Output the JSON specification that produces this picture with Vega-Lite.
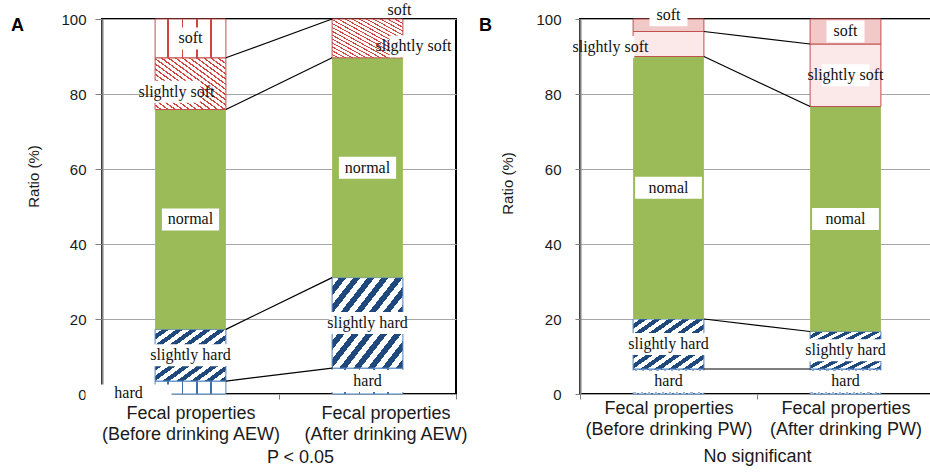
{
  "$schema": "https://vega.github.io/schema/vega-lite/v6.json",
  "background": "white",
  "padding": {"left": 9, "top": 0, "right": 0, "bottom": 0},
  "spacing": 8,
  "config": {
    "view": {"stroke": "#000", "strokeWidth": 2},
    "axisY": {"grid": true, "gridColor": "#a6a6a6", "gridWidth": 1, "domainColor": "#7f7f7f", "domainWidth": 2, "tickColor": "#7f7f7f", "labelFont": "Liberation Sans", "labelFontSize": 15, "labelColor": "#1a1a1a", "titleFont": "Liberation Sans", "titleFontSize": 15, "titleFontWeight": "normal", "titleColor": "#1a1a1a"},
    "axisX": {"domain": false, "tickBand": "extent", "tickColor": "#7f7f7f", "tickSize": 5, "labelAngle": 0, "labelFont": "Liberation Sans", "labelFontSize": 18, "labelColor": "#1a1a1a", "labelLineHeight": 21, "labelLimit": 400, "labelExpr": "datum.label ? ['Fecal properties', '(' + datum.label + ')'] : ''", "titleFont": "Liberation Sans", "titleFontSize": 18, "titleFontWeight": "normal", "titleColor": "#1a1a1a"}
  },
  "datasets": {
    "aew": [
      {"time": "Before drinking AEW", "cat": "hard", "label": "hard", "ratio": 3.448},
      {"time": "Before drinking AEW", "cat": "slightly hard", "label": "slightly hard", "ratio": 13.793},
      {"time": "Before drinking AEW", "cat": "normal", "label": "normal", "ratio": 58.621},
      {"time": "Before drinking AEW", "cat": "slightly soft", "label": "slightly soft", "ratio": 13.793},
      {"time": "Before drinking AEW", "cat": "soft", "label": "soft", "ratio": 10.345},
      {"time": "After drinking AEW", "cat": "hard", "label": "hard", "ratio": 6.897},
      {"time": "After drinking AEW", "cat": "slightly hard", "label": "slightly hard", "ratio": 24.138},
      {"time": "After drinking AEW", "cat": "normal", "label": "normal", "ratio": 58.621},
      {"time": "After drinking AEW", "cat": "slightly soft", "label": "slightly soft", "ratio": 10.345},
      {"time": "After drinking AEW", "cat": "soft", "label": "soft", "ratio": 0}
    ],
    "aewLinks": [
      {"from": "Before drinking AEW", "to": "After drinking AEW", "a": 3.448, "b": 6.897},
      {"from": "Before drinking AEW", "to": "After drinking AEW", "a": 17.241, "b": 31.034},
      {"from": "Before drinking AEW", "to": "After drinking AEW", "a": 75.862, "b": 89.655},
      {"from": "Before drinking AEW", "to": "After drinking AEW", "a": 89.655, "b": 100}
    ],
    "pw": [
      {"time": "Before drinking PW", "cat": "hard", "label": "hard", "ratio": 6.667},
      {"time": "Before drinking PW", "cat": "slightly hard", "label": "slightly hard", "ratio": 13.333},
      {"time": "Before drinking PW", "cat": "normal", "label": "nomal", "ratio": 70},
      {"time": "Before drinking PW", "cat": "slightly soft", "label": "slightly soft", "ratio": 6.667},
      {"time": "Before drinking PW", "cat": "soft", "label": "soft", "ratio": 3.333},
      {"time": "After drinking PW", "cat": "hard", "label": "hard", "ratio": 6.667},
      {"time": "After drinking PW", "cat": "slightly hard", "label": "slightly hard", "ratio": 10},
      {"time": "After drinking PW", "cat": "normal", "label": "nomal", "ratio": 60},
      {"time": "After drinking PW", "cat": "slightly soft", "label": "slightly soft", "ratio": 16.667},
      {"time": "After drinking PW", "cat": "soft", "label": "soft", "ratio": 6.666}
    ],
    "pwLinks": [
      {"from": "Before drinking PW", "to": "After drinking PW", "a": 6.667, "b": 6.667},
      {"from": "Before drinking PW", "to": "After drinking PW", "a": 20, "b": 16.667},
      {"from": "Before drinking PW", "to": "After drinking PW", "a": 90, "b": 76.667},
      {"from": "Before drinking PW", "to": "After drinking PW", "a": 96.667, "b": 93.333}
    ]
  },
  "hconcat": [
    {
      "width": 354, "height": 375,
      "title": {"text": "A", "anchor": "start", "frame": "bounds", "font": "Liberation Sans", "fontSize": 18, "fontWeight": "bold", "color": "#000", "offset": 0, "dx": -16, "dy": 33},
      "data": {"name": "aew"},
      "transform": [
        {"calculate": "indexof(['hard','slightly hard','normal','slightly soft','soft'], datum.cat)", "as": "rank"},
        {"stack": "ratio", "groupby": ["time"], "sort": [{"field": "rank", "order": "ascending"}], "as": ["y0", "y1"]},
        {"calculate": "(datum.y0 + datum.y1) / 2", "as": "mid"},
        {"calculate": "datum.time + '/' + datum.cat", "as": "key"}
      ],
      "encoding": {
        "x": {"field": "time", "type": "nominal", "sort": null, "title": "P < 0.05", "scale": {"domain": ["Before drinking AEW", "After drinking AEW"], "paddingInner": 0, "paddingOuter": 0},
          "axis": {"titleX": 198, "labelPadding": 5, "titlePadding": 5, "labelOffset": {"condition": {"test": "datum.value == 'After drinking AEW'", "value": 18}, "value": 0}}}
      },
      "layer": [
        {"transform": [{"filter": "datum.cat == 'hard'"}],
          "mark": {"type": "bar", "width": {"band": 0.4}, "stroke": "#4f81bd", "strokeWidth": 1,
            "fill": {"gradient": "linear", "x1": 0, "y1": 0, "x2": 1, "y2": 0, "stops": [
              {"offset": 0, "color": "#fff"}, {"offset": 0.175, "color": "#fff"}, {"offset": 0.175, "color": "#3a6fb0"}, {"offset": 0.2, "color": "#3a6fb0"},
              {"offset": 0.2, "color": "#fff"}, {"offset": 0.375, "color": "#fff"}, {"offset": 0.375, "color": "#3a6fb0"}, {"offset": 0.4, "color": "#3a6fb0"},
              {"offset": 0.4, "color": "#fff"}, {"offset": 0.575, "color": "#fff"}, {"offset": 0.575, "color": "#3a6fb0"}, {"offset": 0.6, "color": "#3a6fb0"},
              {"offset": 0.6, "color": "#fff"}, {"offset": 0.775, "color": "#fff"}, {"offset": 0.775, "color": "#3a6fb0"}, {"offset": 0.8, "color": "#3a6fb0"},
              {"offset": 0.8, "color": "#fff"}, {"offset": 1, "color": "#fff"}]}},
          "encoding": {"y": {"field": "y0", "type": "quantitative", "title": "Ratio (%)", "scale": {"domain": [0, 100], "nice": false},
            "axis": {"values": [0, 20, 40, 60, 80, 100], "titleY": 157, "tickSize": 7, "labelPadding": 9, "titlePadding": 19}},
            "y2": {"field": "y1"}}},
        {"transform": [{"filter": "datum.cat == 'slightly hard'"}],
          "mark": {"type": "bar", "width": {"band": 0.4}, "stroke": "#4f81bd", "strokeWidth": 1,
            "fill": {"gradient": "linear", "x1": 0, "y1": 0, "x2": 1, "y2": 1, "stops": [
              {"offset": 0, "color": "#fff"}, {"offset": 0.05, "color": "#fff"}, {"offset": 0.05, "color": "#1f497d"}, {"offset": 0.1, "color": "#1f497d"},
              {"offset": 0.1, "color": "#fff"}, {"offset": 0.15, "color": "#fff"}, {"offset": 0.15, "color": "#1f497d"}, {"offset": 0.2, "color": "#1f497d"},
              {"offset": 0.2, "color": "#fff"}, {"offset": 0.25, "color": "#fff"}, {"offset": 0.25, "color": "#1f497d"}, {"offset": 0.3, "color": "#1f497d"},
              {"offset": 0.3, "color": "#fff"}, {"offset": 0.35, "color": "#fff"}, {"offset": 0.35, "color": "#1f497d"}, {"offset": 0.4, "color": "#1f497d"},
              {"offset": 0.4, "color": "#fff"}, {"offset": 0.45, "color": "#fff"}, {"offset": 0.45, "color": "#1f497d"}, {"offset": 0.5, "color": "#1f497d"},
              {"offset": 0.5, "color": "#fff"}, {"offset": 0.55, "color": "#fff"}, {"offset": 0.55, "color": "#1f497d"}, {"offset": 0.6, "color": "#1f497d"},
              {"offset": 0.6, "color": "#fff"}, {"offset": 0.65, "color": "#fff"}, {"offset": 0.65, "color": "#1f497d"}, {"offset": 0.7, "color": "#1f497d"},
              {"offset": 0.7, "color": "#fff"}, {"offset": 0.75, "color": "#fff"}, {"offset": 0.75, "color": "#1f497d"}, {"offset": 0.8, "color": "#1f497d"},
              {"offset": 0.8, "color": "#fff"}, {"offset": 0.85, "color": "#fff"}, {"offset": 0.85, "color": "#1f497d"}, {"offset": 0.9, "color": "#1f497d"},
              {"offset": 0.9, "color": "#fff"}, {"offset": 0.95, "color": "#fff"}, {"offset": 0.95, "color": "#1f497d"}, {"offset": 1, "color": "#1f497d"}]}},
          "encoding": {"y": {"field": "y0", "type": "quantitative", "title": "Ratio (%)"}, "y2": {"field": "y1"}}},
        {"transform": [{"filter": "datum.cat == 'normal'"}],
          "mark": {"type": "bar", "width": {"band": 0.4}, "fill": "#9bbb59"},
          "encoding": {"y": {"field": "y0", "type": "quantitative", "title": "Ratio (%)"}, "y2": {"field": "y1"}}},
        {"transform": [{"filter": "datum.cat == 'slightly soft'"}],
          "mark": {"type": "bar", "width": {"band": 0.4}, "stroke": "#c0504d", "strokeWidth": 1,
            "fill": {"gradient": "linear", "x1": 0, "y1": 1, "x2": 1, "y2": 0, "stops": [
              {"offset": 0, "color": "#fff"}, {"offset": 0.035, "color": "#fff"}, {"offset": 0.035, "color": "#d0453f"}, {"offset": 0.05, "color": "#d0453f"},
              {"offset": 0.05, "color": "#fff"}, {"offset": 0.085, "color": "#fff"}, {"offset": 0.085, "color": "#d0453f"}, {"offset": 0.1, "color": "#d0453f"},
              {"offset": 0.1, "color": "#fff"}, {"offset": 0.135, "color": "#fff"}, {"offset": 0.135, "color": "#d0453f"}, {"offset": 0.15, "color": "#d0453f"},
              {"offset": 0.15, "color": "#fff"}, {"offset": 0.185, "color": "#fff"}, {"offset": 0.185, "color": "#d0453f"}, {"offset": 0.2, "color": "#d0453f"},
              {"offset": 0.2, "color": "#fff"}, {"offset": 0.235, "color": "#fff"}, {"offset": 0.235, "color": "#d0453f"}, {"offset": 0.25, "color": "#d0453f"},
              {"offset": 0.25, "color": "#fff"}, {"offset": 0.285, "color": "#fff"}, {"offset": 0.285, "color": "#d0453f"}, {"offset": 0.3, "color": "#d0453f"},
              {"offset": 0.3, "color": "#fff"}, {"offset": 0.335, "color": "#fff"}, {"offset": 0.335, "color": "#d0453f"}, {"offset": 0.35, "color": "#d0453f"},
              {"offset": 0.35, "color": "#fff"}, {"offset": 0.385, "color": "#fff"}, {"offset": 0.385, "color": "#d0453f"}, {"offset": 0.4, "color": "#d0453f"},
              {"offset": 0.4, "color": "#fff"}, {"offset": 0.435, "color": "#fff"}, {"offset": 0.435, "color": "#d0453f"}, {"offset": 0.45, "color": "#d0453f"},
              {"offset": 0.45, "color": "#fff"}, {"offset": 0.485, "color": "#fff"}, {"offset": 0.485, "color": "#d0453f"}, {"offset": 0.5, "color": "#d0453f"},
              {"offset": 0.5, "color": "#fff"}, {"offset": 0.535, "color": "#fff"}, {"offset": 0.535, "color": "#d0453f"}, {"offset": 0.55, "color": "#d0453f"},
              {"offset": 0.55, "color": "#fff"}, {"offset": 0.585, "color": "#fff"}, {"offset": 0.585, "color": "#d0453f"}, {"offset": 0.6, "color": "#d0453f"},
              {"offset": 0.6, "color": "#fff"}, {"offset": 0.635, "color": "#fff"}, {"offset": 0.635, "color": "#d0453f"}, {"offset": 0.65, "color": "#d0453f"},
              {"offset": 0.65, "color": "#fff"}, {"offset": 0.685, "color": "#fff"}, {"offset": 0.685, "color": "#d0453f"}, {"offset": 0.7, "color": "#d0453f"},
              {"offset": 0.7, "color": "#fff"}, {"offset": 0.735, "color": "#fff"}, {"offset": 0.735, "color": "#d0453f"}, {"offset": 0.75, "color": "#d0453f"},
              {"offset": 0.75, "color": "#fff"}, {"offset": 0.785, "color": "#fff"}, {"offset": 0.785, "color": "#d0453f"}, {"offset": 0.8, "color": "#d0453f"},
              {"offset": 0.8, "color": "#fff"}, {"offset": 0.835, "color": "#fff"}, {"offset": 0.835, "color": "#d0453f"}, {"offset": 0.85, "color": "#d0453f"},
              {"offset": 0.85, "color": "#fff"}, {"offset": 0.885, "color": "#fff"}, {"offset": 0.885, "color": "#d0453f"}, {"offset": 0.9, "color": "#d0453f"},
              {"offset": 0.9, "color": "#fff"}, {"offset": 0.935, "color": "#fff"}, {"offset": 0.935, "color": "#d0453f"}, {"offset": 0.95, "color": "#d0453f"},
              {"offset": 0.95, "color": "#fff"}, {"offset": 0.985, "color": "#fff"}, {"offset": 0.985, "color": "#d0453f"}, {"offset": 1, "color": "#d0453f"}]}},
          "encoding": {"y": {"field": "y0", "type": "quantitative", "title": "Ratio (%)"}, "y2": {"field": "y1"}}},
        {"transform": [{"filter": "datum.cat == 'soft' && datum.ratio > 0"}],
          "mark": {"type": "bar", "width": {"band": 0.4}, "stroke": "#c0504d", "strokeWidth": 1,
            "fill": {"gradient": "linear", "x1": 0, "y1": 0, "x2": 1, "y2": 0, "stops": [
              {"offset": 0, "color": "#fff"}, {"offset": 0.175, "color": "#fff"}, {"offset": 0.175, "color": "#d0453f"}, {"offset": 0.2, "color": "#d0453f"},
              {"offset": 0.2, "color": "#fff"}, {"offset": 0.375, "color": "#fff"}, {"offset": 0.375, "color": "#d0453f"}, {"offset": 0.4, "color": "#d0453f"},
              {"offset": 0.4, "color": "#fff"}, {"offset": 0.575, "color": "#fff"}, {"offset": 0.575, "color": "#d0453f"}, {"offset": 0.6, "color": "#d0453f"},
              {"offset": 0.6, "color": "#fff"}, {"offset": 0.775, "color": "#fff"}, {"offset": 0.775, "color": "#d0453f"}, {"offset": 0.8, "color": "#d0453f"},
              {"offset": 0.8, "color": "#fff"}, {"offset": 1, "color": "#fff"}]}},
          "encoding": {"y": {"field": "y0", "type": "quantitative", "title": "Ratio (%)"}, "y2": {"field": "y1"}}},
        {"data": {"name": "aewLinks"},
          "mark": {"type": "rule", "color": "#000", "strokeWidth": 1.2},
          "encoding": {"x": {"field": "from", "type": "nominal", "title": "P < 0.05", "bandPosition": 0.7}, "x2": {"field": "to", "bandPosition": 0.3},
            "y": {"field": "a", "type": "quantitative", "title": "Ratio (%)"}, "y2": {"field": "b"}}},
        {"transform": [{"filter": "indexof(['Before drinking AEW/hard','Before drinking AEW/slightly soft','After drinking AEW/soft','After drinking AEW/slightly soft'], datum.key) < 0"}],
          "layer": [
            {"mark": {"type": "tick", "color": "#fff", "opacity": 1, "thickness": 22},
              "encoding": {"y": {"field": "mid", "type": "quantitative", "title": "Ratio (%)"},
                "size": {"field": "label", "type": "ordinal", "legend": null, "scale": {"domain": ["soft", "slightly soft", "normal", "nomal", "slightly hard", "hard"], "range": [38, 86, 56, 54, 86, 38]}}}},
            {"mark": {"type": "text", "font": "Liberation Serif", "fontSize": 16, "color": "#111"},
              "encoding": {"y": {"field": "mid", "type": "quantitative", "title": "Ratio (%)"}, "text": {"field": "label"}}}
          ]},
        {"transform": [{"filter": "datum.key == 'Before drinking AEW/hard'"}],
          "layer": [
            {"mark": {"type": "tick", "color": "#fff", "opacity": 1, "thickness": 16, "xOffset": -62, "yOffset": 5},
              "encoding": {"y": {"field": "mid", "type": "quantitative", "title": "Ratio (%)"}, "size": {"field": "label", "type": "ordinal", "legend": null}}},
            {"mark": {"type": "text", "font": "Liberation Serif", "fontSize": 16, "color": "#111", "dx": -62, "dy": 5},
              "encoding": {"y": {"field": "mid", "type": "quantitative", "title": "Ratio (%)"}, "text": {"field": "label"}}}
          ]},
        {"transform": [{"filter": "datum.key == 'Before drinking AEW/slightly soft'"}],
          "layer": [
            {"mark": {"type": "tick", "color": "#fff", "opacity": 1, "thickness": 22, "xOffset": -14, "yOffset": 8},
              "encoding": {"y": {"field": "mid", "type": "quantitative", "title": "Ratio (%)"}, "size": {"field": "label", "type": "ordinal", "legend": null}}},
            {"mark": {"type": "text", "font": "Liberation Serif", "fontSize": 16, "color": "#111", "dx": -14, "dy": 8},
              "encoding": {"y": {"field": "mid", "type": "quantitative", "title": "Ratio (%)"}, "text": {"field": "label"}}}
          ]},
        {"transform": [{"filter": "datum.key == 'After drinking AEW/soft'"}],
          "mark": {"type": "text", "font": "Liberation Serif", "fontSize": 16, "color": "#111", "dx": 32, "dy": -9},
          "encoding": {"y": {"field": "mid", "type": "quantitative", "title": "Ratio (%)"}, "text": {"field": "label"}}},
        {"transform": [{"filter": "datum.key == 'After drinking AEW/slightly soft'"}],
          "layer": [
            {"mark": {"type": "tick", "color": "#fff", "opacity": 1, "thickness": 22, "xOffset": 46, "yOffset": 8},
              "encoding": {"y": {"field": "mid", "type": "quantitative", "title": "Ratio (%)"}, "size": {"field": "label", "type": "ordinal", "legend": null}}},
            {"mark": {"type": "text", "font": "Liberation Serif", "fontSize": 16, "color": "#111", "dx": 46, "dy": 8},
              "encoding": {"y": {"field": "mid", "type": "quantitative", "title": "Ratio (%)"}, "text": {"field": "label"}}}
          ]}
      ]
    },
    {
      "width": 354, "height": 375,
      "title": {"text": "B", "anchor": "start", "frame": "bounds", "font": "Liberation Sans", "fontSize": 18, "fontWeight": "bold", "color": "#000", "offset": 0, "dx": -22, "dy": 31},
      "data": {"name": "pw"},
      "transform": [
        {"calculate": "indexof(['hard','slightly hard','normal','slightly soft','soft'], datum.cat)", "as": "rank"},
        {"stack": "ratio", "groupby": ["time"], "sort": [{"field": "rank", "order": "ascending"}], "as": ["y0", "y1"]},
        {"calculate": "(datum.y0 + datum.y1) / 2", "as": "mid"},
        {"calculate": "datum.time + '/' + datum.cat", "as": "key"}
      ],
      "encoding": {
        "x": {"field": "time", "type": "nominal", "sort": null, "title": "No significant", "scale": {"domain": ["Before drinking PW", "After drinking PW"], "paddingInner": 0, "paddingOuter": 0},
          "axis": {"labelPadding": 0, "titlePadding": 9}}
      },
      "layer": [
        {"transform": [{"filter": "datum.cat == 'hard'"}],
          "mark": {"type": "bar", "width": {"band": 0.4}, "stroke": "#4f81bd", "strokeWidth": 1,
            "fill": {"gradient": "linear", "x1": 0, "y1": 1, "x2": 1, "y2": 0, "stops": [
              {"offset": 0, "color": "#fff"}, {"offset": 0.035, "color": "#fff"}, {"offset": 0.035, "color": "#2e5c9a"}, {"offset": 0.05, "color": "#2e5c9a"},
              {"offset": 0.05, "color": "#fff"}, {"offset": 0.085, "color": "#fff"}, {"offset": 0.085, "color": "#2e5c9a"}, {"offset": 0.1, "color": "#2e5c9a"},
              {"offset": 0.1, "color": "#fff"}, {"offset": 0.135, "color": "#fff"}, {"offset": 0.135, "color": "#2e5c9a"}, {"offset": 0.15, "color": "#2e5c9a"},
              {"offset": 0.15, "color": "#fff"}, {"offset": 0.185, "color": "#fff"}, {"offset": 0.185, "color": "#2e5c9a"}, {"offset": 0.2, "color": "#2e5c9a"},
              {"offset": 0.2, "color": "#fff"}, {"offset": 0.235, "color": "#fff"}, {"offset": 0.235, "color": "#2e5c9a"}, {"offset": 0.25, "color": "#2e5c9a"},
              {"offset": 0.25, "color": "#fff"}, {"offset": 0.285, "color": "#fff"}, {"offset": 0.285, "color": "#2e5c9a"}, {"offset": 0.3, "color": "#2e5c9a"},
              {"offset": 0.3, "color": "#fff"}, {"offset": 0.335, "color": "#fff"}, {"offset": 0.335, "color": "#2e5c9a"}, {"offset": 0.35, "color": "#2e5c9a"},
              {"offset": 0.35, "color": "#fff"}, {"offset": 0.385, "color": "#fff"}, {"offset": 0.385, "color": "#2e5c9a"}, {"offset": 0.4, "color": "#2e5c9a"},
              {"offset": 0.4, "color": "#fff"}, {"offset": 0.435, "color": "#fff"}, {"offset": 0.435, "color": "#2e5c9a"}, {"offset": 0.45, "color": "#2e5c9a"},
              {"offset": 0.45, "color": "#fff"}, {"offset": 0.485, "color": "#fff"}, {"offset": 0.485, "color": "#2e5c9a"}, {"offset": 0.5, "color": "#2e5c9a"},
              {"offset": 0.5, "color": "#fff"}, {"offset": 0.535, "color": "#fff"}, {"offset": 0.535, "color": "#2e5c9a"}, {"offset": 0.55, "color": "#2e5c9a"},
              {"offset": 0.55, "color": "#fff"}, {"offset": 0.585, "color": "#fff"}, {"offset": 0.585, "color": "#2e5c9a"}, {"offset": 0.6, "color": "#2e5c9a"},
              {"offset": 0.6, "color": "#fff"}, {"offset": 0.635, "color": "#fff"}, {"offset": 0.635, "color": "#2e5c9a"}, {"offset": 0.65, "color": "#2e5c9a"},
              {"offset": 0.65, "color": "#fff"}, {"offset": 0.685, "color": "#fff"}, {"offset": 0.685, "color": "#2e5c9a"}, {"offset": 0.7, "color": "#2e5c9a"},
              {"offset": 0.7, "color": "#fff"}, {"offset": 0.735, "color": "#fff"}, {"offset": 0.735, "color": "#2e5c9a"}, {"offset": 0.75, "color": "#2e5c9a"},
              {"offset": 0.75, "color": "#fff"}, {"offset": 0.785, "color": "#fff"}, {"offset": 0.785, "color": "#2e5c9a"}, {"offset": 0.8, "color": "#2e5c9a"},
              {"offset": 0.8, "color": "#fff"}, {"offset": 0.835, "color": "#fff"}, {"offset": 0.835, "color": "#2e5c9a"}, {"offset": 0.85, "color": "#2e5c9a"},
              {"offset": 0.85, "color": "#fff"}, {"offset": 0.885, "color": "#fff"}, {"offset": 0.885, "color": "#2e5c9a"}, {"offset": 0.9, "color": "#2e5c9a"},
              {"offset": 0.9, "color": "#fff"}, {"offset": 0.935, "color": "#fff"}, {"offset": 0.935, "color": "#2e5c9a"}, {"offset": 0.95, "color": "#2e5c9a"},
              {"offset": 0.95, "color": "#fff"}, {"offset": 0.985, "color": "#fff"}, {"offset": 0.985, "color": "#2e5c9a"}, {"offset": 1, "color": "#2e5c9a"}]}},
          "encoding": {"y": {"field": "y0", "type": "quantitative", "title": "Ratio (%)", "scale": {"domain": [0, 100], "nice": false},
            "axis": {"values": [0, 20, 40, 60, 80, 100], "titleY": 164, "tickSize": 5, "labelPadding": 14, "titlePadding": 20}},
            "y2": {"field": "y1"}}},
        {"transform": [{"filter": "datum.cat == 'slightly hard'"}],
          "mark": {"type": "bar", "width": {"band": 0.4}, "stroke": "#4f81bd", "strokeWidth": 1,
            "fill": {"gradient": "linear", "x1": 0, "y1": 0, "x2": 1, "y2": 1, "stops": [
              {"offset": 0, "color": "#fff"}, {"offset": 0.05, "color": "#fff"}, {"offset": 0.05, "color": "#1f497d"}, {"offset": 0.1, "color": "#1f497d"},
              {"offset": 0.1, "color": "#fff"}, {"offset": 0.15, "color": "#fff"}, {"offset": 0.15, "color": "#1f497d"}, {"offset": 0.2, "color": "#1f497d"},
              {"offset": 0.2, "color": "#fff"}, {"offset": 0.25, "color": "#fff"}, {"offset": 0.25, "color": "#1f497d"}, {"offset": 0.3, "color": "#1f497d"},
              {"offset": 0.3, "color": "#fff"}, {"offset": 0.35, "color": "#fff"}, {"offset": 0.35, "color": "#1f497d"}, {"offset": 0.4, "color": "#1f497d"},
              {"offset": 0.4, "color": "#fff"}, {"offset": 0.45, "color": "#fff"}, {"offset": 0.45, "color": "#1f497d"}, {"offset": 0.5, "color": "#1f497d"},
              {"offset": 0.5, "color": "#fff"}, {"offset": 0.55, "color": "#fff"}, {"offset": 0.55, "color": "#1f497d"}, {"offset": 0.6, "color": "#1f497d"},
              {"offset": 0.6, "color": "#fff"}, {"offset": 0.65, "color": "#fff"}, {"offset": 0.65, "color": "#1f497d"}, {"offset": 0.7, "color": "#1f497d"},
              {"offset": 0.7, "color": "#fff"}, {"offset": 0.75, "color": "#fff"}, {"offset": 0.75, "color": "#1f497d"}, {"offset": 0.8, "color": "#1f497d"},
              {"offset": 0.8, "color": "#fff"}, {"offset": 0.85, "color": "#fff"}, {"offset": 0.85, "color": "#1f497d"}, {"offset": 0.9, "color": "#1f497d"},
              {"offset": 0.9, "color": "#fff"}, {"offset": 0.95, "color": "#fff"}, {"offset": 0.95, "color": "#1f497d"}, {"offset": 1, "color": "#1f497d"}]}},
          "encoding": {"y": {"field": "y0", "type": "quantitative", "title": "Ratio (%)"}, "y2": {"field": "y1"}}},
        {"transform": [{"filter": "datum.cat == 'normal'"}],
          "mark": {"type": "bar", "width": {"band": 0.4}, "fill": "#9bbb59"},
          "encoding": {"y": {"field": "y0", "type": "quantitative", "title": "Ratio (%)"}, "y2": {"field": "y1"}}},
        {"transform": [{"filter": "datum.cat == 'slightly soft'"}],
          "mark": {"type": "bar", "width": {"band": 0.4}, "stroke": "#c0504d", "strokeWidth": 1, "fill": "#fbe9e9"},
          "encoding": {"y": {"field": "y0", "type": "quantitative", "title": "Ratio (%)"}, "y2": {"field": "y1"}}},
        {"transform": [{"filter": "datum.cat == 'soft'"}],
          "mark": {"type": "bar", "width": {"band": 0.4}, "stroke": "#c0504d", "strokeWidth": 1, "fill": "#f1c9c9"},
          "encoding": {"y": {"field": "y0", "type": "quantitative", "title": "Ratio (%)"}, "y2": {"field": "y1"}}},
        {"data": {"name": "pwLinks"},
          "mark": {"type": "rule", "color": "#000", "strokeWidth": 1.2},
          "encoding": {"x": {"field": "from", "type": "nominal", "title": "No significant", "bandPosition": 0.7}, "x2": {"field": "to", "bandPosition": 0.3},
            "y": {"field": "a", "type": "quantitative", "title": "Ratio (%)"}, "y2": {"field": "b"}}},
        {"transform": [{"filter": "indexof(['Before drinking PW/soft','Before drinking PW/slightly soft'], datum.key) < 0"}],
          "layer": [
            {"mark": {"type": "tick", "color": "#fff", "opacity": 1, "thickness": 22},
              "encoding": {"y": {"field": "mid", "type": "quantitative", "title": "Ratio (%)"},
                "size": {"field": "label", "type": "ordinal", "legend": null, "scale": {"domain": ["soft", "slightly soft", "normal", "nomal", "slightly hard", "hard"], "range": [38, 86, 56, 54, 86, 38]}}}},
            {"mark": {"type": "text", "font": "Liberation Serif", "fontSize": 16, "color": "#111"},
              "encoding": {"y": {"field": "mid", "type": "quantitative", "title": "Ratio (%)"}, "text": {"field": "label"}}}
          ]},
        {"transform": [{"filter": "datum.key == 'Before drinking PW/soft'"}],
          "layer": [
            {"mark": {"type": "tick", "color": "#fff", "opacity": 1, "thickness": 22, "yOffset": -10},
              "encoding": {"y": {"field": "mid", "type": "quantitative", "title": "Ratio (%)"}, "size": {"field": "label", "type": "ordinal", "legend": null}}},
            {"mark": {"type": "text", "font": "Liberation Serif", "fontSize": 16, "color": "#111", "dy": -10},
              "encoding": {"y": {"field": "mid", "type": "quantitative", "title": "Ratio (%)"}, "text": {"field": "label"}}}
          ]},
        {"transform": [{"filter": "datum.key == 'Before drinking PW/slightly soft'"}],
          "layer": [
            {"mark": {"type": "tick", "color": "#fff", "opacity": 1, "thickness": 22, "xOffset": -58, "yOffset": 3},
              "encoding": {"y": {"field": "mid", "type": "quantitative", "title": "Ratio (%)"}, "size": {"field": "label", "type": "ordinal", "legend": null}}},
            {"mark": {"type": "text", "font": "Liberation Serif", "fontSize": 16, "color": "#111", "dx": -58, "dy": 3},
              "encoding": {"y": {"field": "mid", "type": "quantitative", "title": "Ratio (%)"}, "text": {"field": "label"}}}
          ]}
      ]
    }
  ]
}
